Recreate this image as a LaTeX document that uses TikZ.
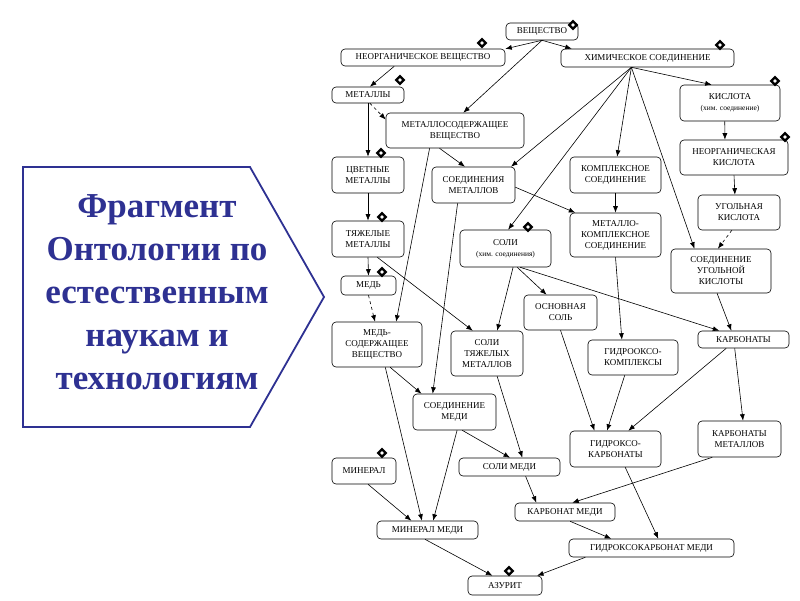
\documentclass[tikz,border=0pt]{standalone}
\usepackage{fontspec}
\setmainfont{Liberation Serif}
\usetikzlibrary{positioning,arrows.meta,shapes.geometric}

\definecolor{titleblue}{RGB}{46,49,146}
\newcommand{\smalltxt}[1]{{\fontsize{7.5}{9}\selectfont #1}}

\begin{document}
\begin{tikzpicture}[x=1pt, y=-1pt, >={Latex[length=6.5pt,width=5pt]}]
	\useasboundingbox (0,0) rectangle (800,600);

	% title arrow
	\draw [titleblue, line width=1.8pt, fill=white] (23,167) -- (250,167) -- (324,297) -- (250,427) -- (23,427) -- cycle;
	\node (title) at (157,292) [text=titleblue, align=center, font=\bfseries\fontsize{35}{43}\selectfont] {Фрагмент\\Онтологии по\\естественным\\наукам и\\технологиям};

	\begin{scope}[line width=0.6pt]
		\tikzstyle{every node}=[draw, rounded corners=4pt, fill=white, align=center, inner sep=1pt, font=\fontsize{9}{11}\selectfont]
		\tikzstyle{flag}=[shape=diamond, line width=2.4pt, minimum size=8.5pt, inner sep=0pt, rounded corners=0pt]

		\node (vesch)   at (542, 31.5)  [minimum width=72pt,  minimum height=17pt] {ВЕЩЕСТВО};
		\node (inorg)   at (423, 57.5)  [minimum width=164pt, minimum height=17pt] {НЕОРГАНИЧЕСКОЕ ВЕЩЕСТВО};
		\node (chem)    at (647.5, 58)  [minimum width=173pt, minimum height=18pt] {ХИМИЧЕСКОЕ СОЕДИНЕНИЕ};
		\node (metals)  at (368, 95)    [minimum width=72pt,  minimum height=16pt] {МЕТАЛЛЫ};
		\node (metcont) at (455, 130.5) [minimum width=138pt, minimum height=35pt] {МЕТАЛЛОСОДЕРЖАЩЕЕ\\ВЕЩЕСТВО};
		\node (acid)    at (730, 103)   [minimum width=100pt, minimum height=36pt] {КИСЛОТА\\\smalltxt{(хим. соединение)}};
		\node (inacid)  at (734, 157.5) [minimum width=108pt, minimum height=35pt] {НЕОРГАНИЧЕСКАЯ\\КИСЛОТА};

		\node (colored)    at (368, 175)     [minimum width=72pt, minimum height=36pt] {ЦВЕТНЫЕ\\МЕТАЛЛЫ};
		\node (metcomp)    at (473.5, 185)   [minimum width=83pt, minimum height=36pt] {СОЕДИНЕНИЯ\\МЕТАЛЛОВ};
		\node (complex)    at (615.5, 175)   [minimum width=91pt, minimum height=36pt] {КОМПЛЕКСНОЕ\\СОЕДИНЕНИЕ};
		\node (carbacid)   at (739, 212.5)   [minimum width=82pt, minimum height=35pt] {УГОЛЬНАЯ\\КИСЛОТА};
		\node (metcomplex) at (615.5, 235)   [minimum width=91pt, minimum height=44pt] {МЕТАЛЛО-\\КОМПЛЕКСНОЕ\\СОЕДИНЕНИЕ};
		\node (heavy)      at (368, 239)     [minimum width=72pt, minimum height=36pt] {ТЯЖЕЛЫЕ\\МЕТАЛЛЫ};
		\node (salts)      at (505.5, 248.5) [minimum width=91pt, minimum height=37pt] {СОЛИ\\\smalltxt{(хим. соединения)}};
		\node (carbcomp)   at (721, 271)     [minimum width=100pt, minimum height=44pt] {СОЕДИНЕНИЕ\\УГОЛЬНОЙ\\КИСЛОТЫ};
		\node (copper)     at (368.5, 285.5) [minimum width=55pt, minimum height=19pt] {МЕДЬ};

		\node (basicsalt)   at (560.5, 312.5) [minimum width=73pt, minimum height=35pt] {ОСНОВНАЯ\\СОЛЬ};
		\node (cucont)      at (377, 344.5)   [minimum width=90pt, minimum height=45pt] {МЕДЬ-\\СОДЕРЖАЩЕЕ\\ВЕЩЕСТВО};
		\node (heavysalts)  at (487, 353.5)   [minimum width=72pt, minimum height=45pt] {СОЛИ\\ТЯЖЕЛЫХ\\МЕТАЛЛОВ};
		\node (carbonates)  at (743.5, 339.5) [minimum width=91pt, minimum height=17pt] {КАРБОНАТЫ};
		\node (hydroxocomp) at (633, 357.5)   [minimum width=90pt, minimum height=35pt] {ГИДРООКСО-\\КОМПЛЕКСЫ};

		\node (cucomp)        at (454.5, 412) [minimum width=83pt, minimum height=36pt] {СОЕДИНЕНИЕ\\МЕДИ};
		\node (hydroxocarb)   at (615.5, 449) [minimum width=91pt, minimum height=36pt] {ГИДРОКСО-\\КАРБОНАТЫ};
		\node (metcarb)       at (739.5, 439) [minimum width=83pt, minimum height=36pt] {КАРБОНАТЫ\\МЕТАЛЛОВ};
		\node (mineral)       at (364, 471)   [minimum width=64pt, minimum height=26pt] {МИНЕРАЛ};
		\node (cusalts)       at (509.5, 467) [minimum width=101pt, minimum height=18pt] {СОЛИ МЕДИ};
		\node (cucarb)        at (565, 512)   [minimum width=100pt, minimum height=18pt] {КАРБОНАТ МЕДИ};
		\node (cumineral)     at (427.5, 530) [minimum width=101pt, minimum height=18pt] {МИНЕРАЛ МЕДИ};
		\node (hydroxocucarb) at (651.5, 548) [minimum width=165pt, minimum height=18pt] {ГИДРОКСОКАРБОНАТ МЕДИ};
		\node (azurite)       at (505, 585.5) [minimum width=74pt, minimum height=19pt] {АЗУРИТ};

		% diamonds
		\node [flag] (vesch-f)   at (573, 25)  {};
		\node [flag] (inorg-f)   at (482, 43)  {};
		\node [flag] (chem-f)    at (720, 45)  {};
		\node [flag] (metals-f)  at (400, 80)  {};
		\node [flag] (acid-f)    at (775, 81)  {};
		\node [flag] (inacid-f)  at (785, 137) {};
		\node [flag] (colored-f) at (381, 153) {};
		\node [flag] (heavy-f)   at (382, 217) {};
		\node [flag] (copper-f)  at (382, 272) {};
		\node [flag] (salts-f)   at (528, 227) {};
		\node [flag] (mineral-f) at (382, 453) {};
		\node [flag] (azurite-f) at (509, 571) {};

		\draw [->] (vesch.south) to (inorg.6);
		\draw [->] (vesch.south) to (chem.173);
		\draw [->] (vesch.south) to (metcont.65);
		\draw [->] (inorg.197) to (metals.77);
		\draw [->, dashed] (metals.283) to (metcont.171);
		\draw [->] (metals.south) to (colored.north);
		\draw [->] (colored.south) to (heavy.north);
		\draw [->] (heavy.south) to (copper.north);

		\draw [->] (metcont.229) to (metcomp.115);
		\draw [->] (metcont.215) to (cucont.50);
		\draw [->, dashed] (copper.south) to (cucont.95);
		\draw [->] (heavy.297) to (heavysalts.122);
		\draw [->] (metcomp.229) to (cucomp.140);
		\draw [->] (metcomp.357) to (metcomplex.151);

		\draw [->] (chem.210) to (metcomp.26);
		\draw [->] (chem.210) to (salts.82);
		\draw [->] (chem.210) to (complex.85);
		\draw [->] (chem.210) to (carbcomp.140);
		\draw [->] (chem.210) to (acid.135);
		\draw [->] (acid.254) to (inacid.117);
		\draw [->] (inacid.south) to (carbacid.103);
		\draw [->, dashed] (carbacid.248) to (carbcomp.98);
		\draw [->] (complex.south) to (metcomplex.north);
		\draw [->] (metcomplex.south) to (hydroxocomp.122);

		\draw [->] (salts.292) to (heavysalts.66);
		\draw [->] (salts.302) to (basicsalt.128);
		\draw [->] (salts.308) to (carbonates.160);
		\draw [->] (carbcomp.260) to (carbonates.144);
		\draw [->] (basicsalt.south) to (hydroxocarb.139);
		\draw [->] (hydroxocomp.245) to (hydroxocarb.115);
		\draw [->] (carbonates.207) to (hydroxocarb.55);
		\draw [->] (carbonates.225) to (metcarb.79);

		\draw [->] (cucont.300) to (cucomp.151);
		\draw [->] (cucont.290) to (cumineral.121);
		\draw [->] (cucomp.278) to (cumineral.59);
		\draw [->] (cucomp.293) to (cusalts.87);
		\draw [->] (heavysalts.294) to (cusalts.36);
		\draw [->] (mineral.287) to (cumineral.150);
		\draw [->] (cusalts.330) to (cucarb.162);
		\draw [->] (metcarb.214) to (cucarb.52);
		\draw [->] (cucarb.299) to (hydroxocucarb.167);
		\draw [->] (hydroxocarb.298) to (hydroxocucarb.54);
		\draw [->] (cumineral.255) to (azurite.142);
		\draw [->] (hydroxocucarb.188) to (azurite.17);
	\end{scope}
\end{tikzpicture}
\end{document}
